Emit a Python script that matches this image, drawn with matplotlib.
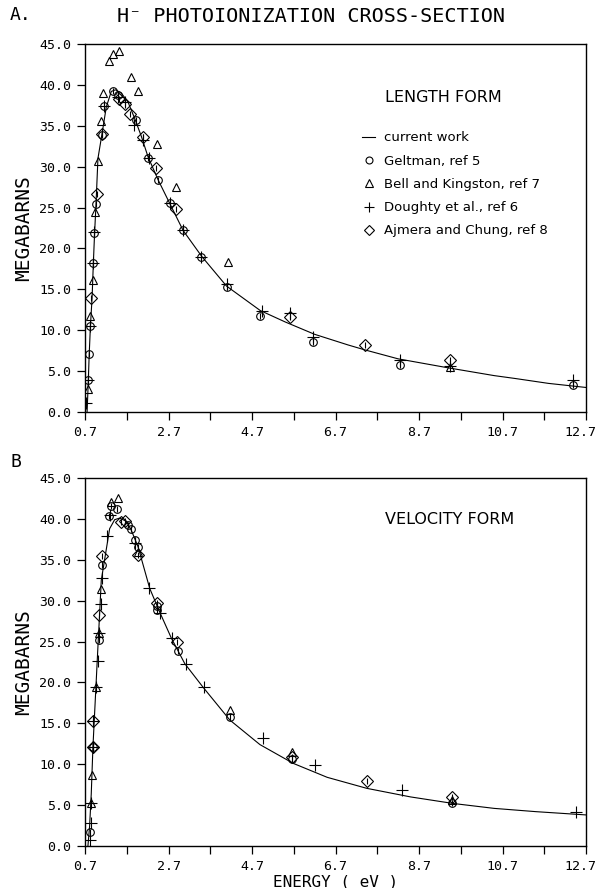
import matplotlib
matplotlib.use("Agg")
import matplotlib.pyplot as plt
from matplotlib.lines import Line2D
from matplotlib.transforms import ScaledTranslation

# ---------------- data ----------------
# Panel A: length form
curveA_E = [0.75, 0.78, 0.80, 0.83, 0.87, 0.90, 0.93, 0.96, 1.01, 1.11, 1.21, 1.33, 1.43,
            1.57, 1.73, 1.89, 2.05, 2.21, 2.45, 2.73, 3.05, 3.50, 4.09, 4.90, 5.50, 6.20,
            7.00, 7.40, 8.20, 9.40, 10.50, 11.00, 11.80, 12.70]
curveA_S = [0.0, 3.9, 7.0, 10.5, 14.0, 18.2, 21.9, 25.0, 31.0, 34.1, 37.3, 39.2, 39.4,
            39.0, 37.9, 35.9, 33.7, 31.2, 28.4, 25.5, 22.2, 19.0, 15.4, 12.4, 11.0, 9.5,
            8.2, 7.6, 6.5, 5.4, 4.45, 4.1, 3.5, 3.0]

geltA_E = [0.78, 0.80, 0.83, 0.90, 0.92, 0.96, 1.11, 1.15, 1.37, 1.50, 1.92, 2.22, 2.45,
           2.73, 3.05, 3.49, 4.09, 4.90, 6.17, 8.24, 12.39]
geltA_S = [3.9, 7.1, 10.5, 18.2, 21.9, 25.4, 33.9, 37.4, 39.3, 38.8, 35.7, 31.0, 28.4,
           25.5, 22.2, 19.0, 15.3, 11.7, 8.6, 5.7, 3.3]

bellA_E = [0.78, 0.83, 0.88, 0.94, 1.00, 1.08, 1.13, 1.27, 1.37, 1.51, 1.81, 1.97, 2.43,
           2.89, 4.13, 9.44]
bellA_S = [2.8, 11.7, 16.2, 24.4, 30.7, 35.6, 39.0, 42.9, 43.8, 44.1, 41.0, 39.2, 32.8,
           27.5, 18.3, 5.5]

dougA_E = [0.72, 0.78, 0.83, 0.90, 0.92, 1.15, 1.50, 1.65, 1.87, 2.08, 2.24, 2.73, 3.05,
           3.49, 4.09, 4.93, 5.61, 6.17, 8.24, 9.44, 12.39]
dougA_S = [1.1, 3.9, 10.5, 18.2, 22.0, 37.4, 38.5, 37.9, 35.1, 33.2, 31.0, 25.5, 22.2,
           19.0, 15.7, 12.3, 12.1, 9.2, 6.4, 5.6, 3.9]

ajmA_E = [0.85, 0.99, 1.11, 1.52, 1.66, 1.78, 2.09, 2.41, 2.89, 5.61, 7.40, 9.44]
ajmA_S = [14.0, 26.7, 34.0, 38.3, 37.7, 36.4, 33.6, 29.8, 24.8, 11.6, 8.2, 6.4]

# Panel B: velocity form
curveB_E = [0.77, 0.81, 0.85, 0.89, 0.93, 0.97, 1.01, 1.05, 1.09, 1.29, 1.41, 1.53,
            1.69, 1.81, 1.97, 2.25, 2.49, 2.77, 3.09, 3.53, 4.17, 4.89, 5.69, 6.50,
            7.45, 8.50, 9.52, 10.50, 11.50, 12.70]
curveB_S = [0.0, 2.4, 6.4, 12.1, 16.2, 20.3, 24.4, 28.4, 32.5, 38.8, 39.9, 40.1,
            39.7, 38.6, 36.6, 31.5, 28.6, 25.4, 22.3, 19.4, 15.4, 12.4, 10.1, 8.4,
            7.05, 6.0, 5.2, 4.6, 4.2, 3.8]

geltB_E = [0.83, 0.89, 1.03, 1.11, 1.27, 1.33, 1.47, 1.73, 1.81, 1.90, 1.97, 2.43, 2.43,
           2.93, 4.17, 5.67, 9.50]
geltB_S = [1.7, 12.1, 25.2, 34.4, 40.3, 41.6, 41.2, 39.3, 38.8, 37.4, 36.6, 29.3, 28.8,
           23.8, 15.8, 10.6, 5.3]

bellB_E = [0.85, 0.87, 0.97, 1.03, 1.09, 1.33, 1.49, 1.97, 4.17, 5.67, 9.50]
bellB_S = [5.3, 8.7, 19.5, 26.1, 31.4, 42.1, 42.6, 36.0, 16.6, 11.5, 5.6]

dougB_E = [0.81, 0.84, 0.85, 0.89, 0.89, 0.97, 1.01, 1.03, 1.08, 1.11, 1.23, 1.29, 1.90,
           2.24, 2.50, 2.78, 3.12, 3.55, 4.97, 6.21, 8.29, 12.47]
dougB_S = [0.7, 2.8, 5.3, 12.1, 15.3, 19.5, 22.6, 26.1, 29.6, 32.8, 37.9, 40.5, 37.0,
           31.6, 28.5, 25.4, 22.3, 19.4, 13.2, 9.9, 6.8, 4.1]

ajmB_E = [0.89, 0.89, 1.03, 1.11, 1.57, 1.67, 1.97, 2.42, 2.91, 5.67, 7.45, 9.50]
ajmB_S = [15.3, 12.1, 28.2, 35.5, 39.6, 39.7, 35.6, 29.7, 24.9, 10.9, 7.9, 6.0]

yticks = [0, 5, 10, 15, 20, 25, 30, 35, 40, 45]
xticks = [0.7, 1.7, 2.7, 3.7, 4.7, 5.7, 6.7, 7.7, 8.7, 9.7, 10.7, 11.7, 12.7]
xlabels = ["0.7", "", "2.7", "", "4.7", "", "6.7", "", "8.7", "", "10.7", "", "12.7"]

legend_labels = ["current work", "Geltman, ref 5", "Bell and Kingston, ref 7",
                 "Doughty et al., ref 6", "Ajmera and Chung, ref 8"]

# ---------------- figure ----------------
MONO = "DejaVu Sans Mono"
fig = plt.figure(figsize=(5.98, 8.88), dpi=100)
W, H = 598.0, 888.0
axA = fig.add_axes([85 / W, 1 - 412 / H, 501 / W, 368 / H])
axB = fig.add_axes([85 / W, 1 - 846 / H, 501 / W, 368 / H])

lw = 0.8
mk = dict(linestyle="none", color="black", markerfacecolor="none", markeredgewidth=0.8)


def draw(ax, cE, cS, gE, gS, bE, bS, dE, dS, aE, aS):
    ax.plot(cE, cS, color="black", lw=lw, zorder=3)
    ax.plot(gE, gS, marker="o", markersize=5.5, **mk)
    ax.plot(gE, gS, marker="|", markersize=4, **mk)
    ax.plot(bE, bS, marker="^", markersize=6, **mk)
    ax.plot(dE, dS, marker="+", markersize=8, **mk)
    ax.plot(aE, aS, marker="D", markersize=6, **mk)
    ax.plot(aE, aS, marker="|", markersize=4, **mk)
    ax.set_xlim(0.7, 12.7)
    ax.set_ylim(0, 45)
    ax.set_yticks(yticks)
    ax.set_yticklabels(["%.1f" % v for v in yticks], family=MONO, fontsize=9.5)
    ax.set_xticks(xticks)
    ax.set_xticklabels(xlabels, family=MONO, fontsize=9.5)
    ax.tick_params(direction="out", length=6, width=0.9, pad=4, color="black")
    for s in ax.spines.values():
        s.set_linewidth(1.0)
    ax.set_ylabel("MEGABARNS", family=MONO, fontsize=14, labelpad=4)
    last = ax.get_xticklabels()[-1]
    last.set_transform(last.get_transform() + ScaledTranslation(-6 / 100, 0, fig.dpi_scale_trans))


draw(axA, curveA_E, curveA_S, geltA_E, geltA_S, bellA_E, bellA_S,
     dougA_E, dougA_S, ajmA_E, ajmA_S)
draw(axB, curveB_E, curveB_S, geltB_E, geltB_S, bellB_E, bellB_S,
     dougB_E, dougB_S, ajmB_E, ajmB_S)

axB.set_xlabel("ENERGY ( eV )", family=MONO, fontsize=11.5, labelpad=1)

# legend (panel A)
handles = [
    Line2D([], [], color="black", lw=lw),
    Line2D([], [], marker="o", markersize=5, **mk),
    Line2D([], [], marker="^", markersize=5.5, **mk),
    Line2D([], [], marker="+", markersize=7, **mk),
    Line2D([], [], marker="D", markersize=5, **mk),
]
leg = axA.legend(handles, legend_labels, loc="upper left", bbox_to_anchor=(0.529, 0.795),
                 frameon=False, handlelength=1.0, handletextpad=0.7, labelspacing=0.78,
                 prop={"family": "DejaVu Sans", "size": 9.5})

axA.text(0.599, 0.855, "LENGTH FORM", transform=axA.transAxes, fontsize=11.5,
         family="DejaVu Sans", va="center", ha="left")
axB.text(0.599, 0.886, "VELOCITY FORM", transform=axB.transAxes, fontsize=11.5,
         family="DejaVu Sans", va="center", ha="left")

fig.text(10 / W, 1 - 15 / H, "A.", family=MONO, fontsize=13, va="center", ha="left")
fig.text(10 / W, 1 - 462 / H, "B", family=MONO, fontsize=13, va="center", ha="left")
fig.text(311 / W, 1 - 17 / H, "H\u207b PHOTOIONIZATION CROSS-SECTION", family=MONO,
         fontsize=14.5, va="center", ha="center")

fig.savefig("out.png", dpi=100)
